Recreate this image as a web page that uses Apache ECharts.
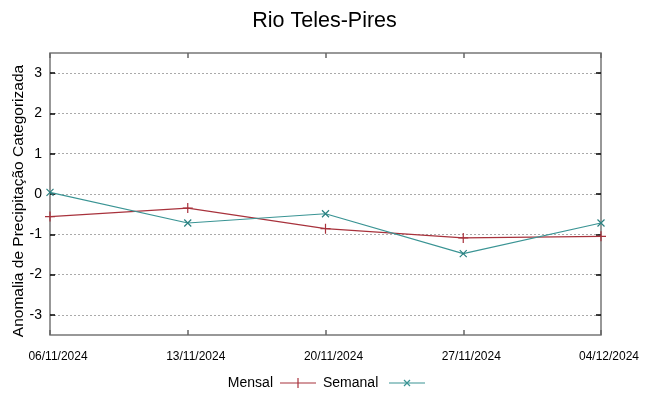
<!DOCTYPE html>
<html><head><meta charset="utf-8">
<script src="https://cdn.jsdelivr.net/npm/echarts@6/dist/echarts.min.js"></script>
<style>html,body{margin:0;padding:0;background:#fff}#c{width:649px;height:396px}</style>
</head><body><div id="c"></div>
<script>
const categories = ['06/11/2024','13/11/2024','20/11/2024','27/11/2024','04/12/2024'];
const mensal = [-0.56, -0.35, -0.86, -1.09, -1.05];
const semanal = [0.04, -0.72, -0.49, -1.48, -0.72];
const yTicks = [-3, -2, -1, 0, 1, 2, 3];
const seriesNames = ['Mensal','Semanal'];
const yName = 'Anomalia de Precipitação Categorizada';
const RED = '#a8323c', TEAL = '#3a9494';
const chart = echarts.init(document.getElementById('c'));
const lf = 'Liberation Sans';
chart.setOption({
  animation:false,
  backgroundColor:'#fff',
  title:{text:'Rio Teles-Pires', left:'center', top:5, textStyle:{fontFamily:lf, fontSize:21.5, fontWeight:'normal', color:'#000'}},
  grid:{left:50, right:48, top:53, bottom:61, show:true, borderColor:'#777', borderWidth:1.5, backgroundColor:'transparent', outerBoundsMode:'none', containLabel:false},
  legend:{show:false},
  graphic:[
    {type:'text', x:19, y:201, rotation:Math.PI/2, style:{text:yName, font:'15.5px "Liberation Sans"', fill:'#000', align:'center', verticalAlign:'middle'}},
    {type:'text', right:649-273, top:376, style:{text:seriesNames[0], font:'14px "Liberation Sans"', fill:'#000'}},
    {type:'line', shape:{x1:280,y1:383,x2:316,y2:383}, style:{stroke:RED, lineWidth:1.2}},
    {type:'line', shape:{x1:298,y1:378,x2:298,y2:388}, style:{stroke:RED, lineWidth:1.2}},
    {type:'text', left:323, top:376, style:{text:seriesNames[1], font:'14px "Liberation Sans"', fill:'#000'}},
    {type:'line', shape:{x1:389,y1:383,x2:425,y2:383}, style:{stroke:TEAL, lineWidth:1.2}},
    {type:'line', shape:{x1:404,y1:380,x2:410,y2:386}, style:{stroke:TEAL, lineWidth:1.2}},
    {type:'line', shape:{x1:410,y1:380,x2:404,y2:386}, style:{stroke:TEAL, lineWidth:1.2}}
  ],
  xAxis:[{type:'category', data:categories, boundaryGap:false, position:'bottom',
    axisLine:{show:false, onZero:false}, axisTick:{show:true, inside:true, length:5, lineStyle:{color:'#666', width:1.5}, alignWithLabel:true},
    axisLabel:{fontFamily:lf, fontSize:12, color:'#000', margin:16, interval:0, padding:[0,0,0,16]},
    splitLine:{show:false}},
    {type:'category', data:categories, boundaryGap:false, position:'top',
    axisLine:{show:false, onZero:false}, axisTick:{show:true, inside:true, length:5, lineStyle:{color:'#666', width:1.5}},
    axisLabel:{show:false}, splitLine:{show:false}}],
  yAxis:[{type:'value', min:-3.5, max:3.5, splitNumber:7, position:'left',
    axisLine:{show:false}, axisTick:{show:true, inside:true, length:5, customValues:yTicks, lineStyle:{color:'#000', width:1.5}},
    axisLabel:{fontFamily:lf, fontSize:14, color:'#000', margin:8, showMinLabel:false, showMaxLabel:false},
    splitLine:{show:true, lineStyle:{color:'#aaa', type:[2,2], width:1}}},
    {type:'value', min:-3.5, max:3.5, splitNumber:7, position:'right',
    axisLine:{show:false}, axisTick:{show:true, inside:true, length:5, customValues:yTicks, lineStyle:{color:'#000', width:1.5}},
    axisLabel:{show:false}, splitLine:{show:false}}],
  series:[
    {name:seriesNames[0], type:'line', data:mensal, symbol:'path://M0,5L10,5M5,0L5,10', symbolSize:10, showSymbol:true,
      lineStyle:{color:RED, width:1.2}, itemStyle:{color:'transparent', borderColor:RED, borderWidth:1.2}, color:RED},
    {name:seriesNames[1], type:'line', data:semanal, symbol:'path://M0,0L10,10M10,0L0,10', symbolSize:7, showSymbol:true,
      lineStyle:{color:TEAL, width:1.2}, itemStyle:{color:'transparent', borderColor:'#2a8080', borderWidth:1.2}, color:TEAL}
  ]
});
</script></body></html>
